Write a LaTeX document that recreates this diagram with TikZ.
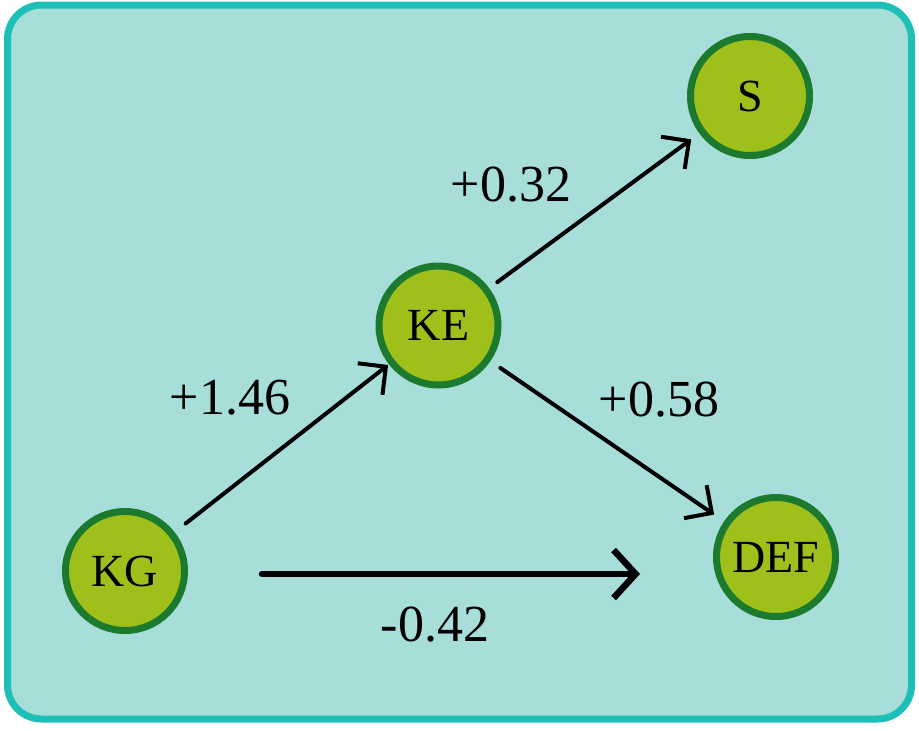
\documentclass[tikz,border=0pt]{standalone}
\usepackage{fontspec}
\setmainfont{Liberation Serif}
\usetikzlibrary{arrows.meta}
\definecolor{bgfill}{HTML}{A8DEDA}
\definecolor{bgline}{HTML}{1DBFB6}
\definecolor{nodefill}{HTML}{9FBF1B}
\definecolor{nodeline}{HTML}{1C7A2E}
\tikzset{
  var/.style={circle, draw=nodeline, fill=nodefill, line width=7pt, minimum size=119pt, inner sep=0pt, font=\fontsize{46}{46}\selectfont},
  conn/.style={line width=4pt, line cap=round, -{Straight Barb[length=20pt, width=40pt, line width=4pt]}},
  thickconn/.style={line width=6.5pt, line cap=round, -{Straight Barb[length=22pt, width=48pt, line width=6.5pt]}},
  lbl/.style={font=\fontsize{52}{52}\selectfont, inner sep=0pt}
}
\begin{document}
\begin{tikzpicture}[x=1pt, y=-1pt]
\useasboundingbox (0,0) rectangle (919,731);
\draw[bgline, fill=bgfill, line width=7pt, rounded corners=34pt] (7.5,5) rectangle (911.5,719);
\node[var] (S) at (750,96) {S};
\node[var] (KE) at (438.5,325.5) {KE};
\node[var] (KG) at (125,571) {KG};
\node[var] (DEF) at (776,557) {DEF};
\draw[conn, shorten <=14pt, shorten >=1pt] (KG) -- (KE);
\draw[conn, shorten <=10pt, shorten >=10pt] (KE) -- (S);
\draw[conn, shorten <=12pt, shorten >=12pt] (KE) -- (DEF);
\coordinate (a1) at (262,574);
\coordinate (a2) at (640,574);
\draw[thickconn] (a1) -- (a2);
\node[lbl] (l1) at (230,398) {+1.46};
\node[lbl] (l2) at (511,185) {+0.32};
\node[lbl] (l3) at (659,400) {+0.58};
\node[lbl] (l4) at (435,625) {-0.42};
\end{tikzpicture}
\end{document}
